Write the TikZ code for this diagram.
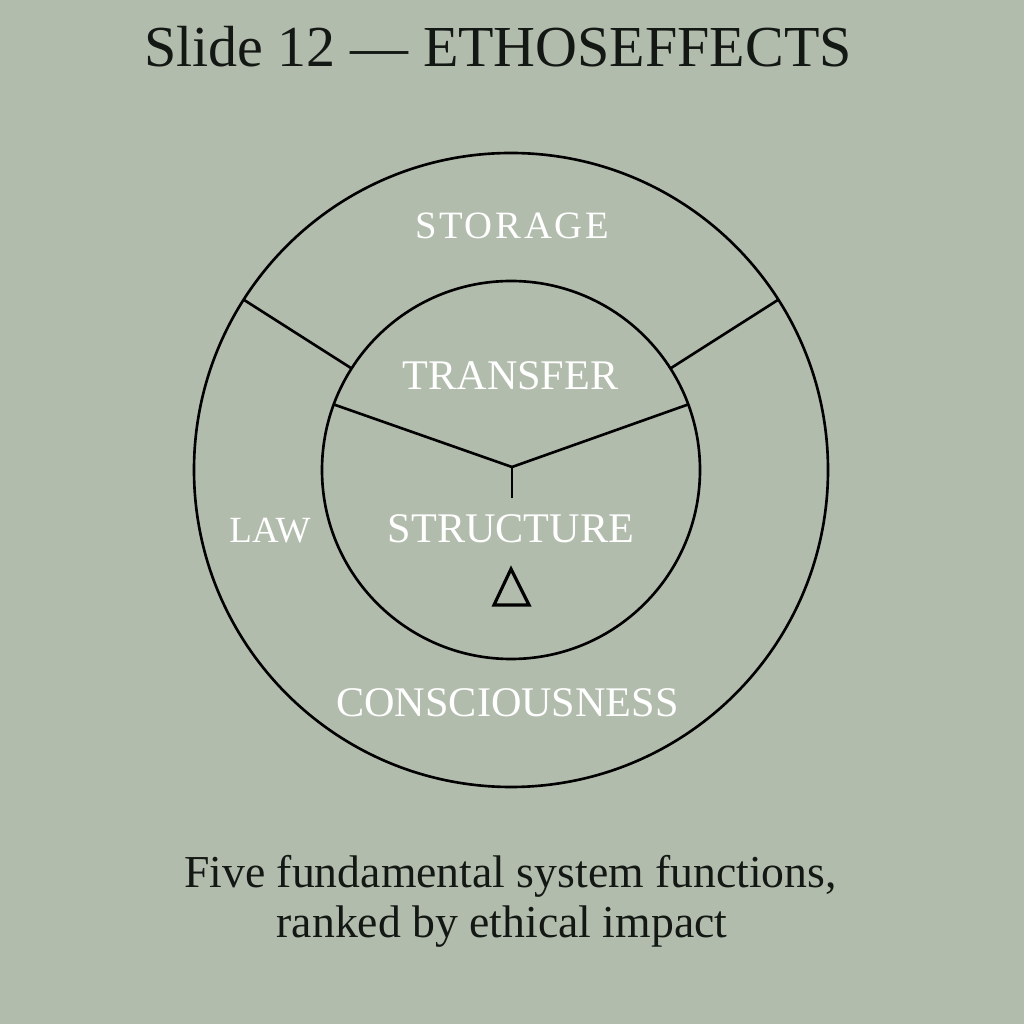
\documentclass[tikz,border=0pt]{standalone}
\usepackage{fontspec}
\setmainfont{Liberation Serif}
\usetikzlibrary{calc}
\definecolor{sage}{RGB}{178,188,172}
\definecolor{ink}{RGB}{20,24,20}
\tikzset{
	ring/.style={line width=0.75pt,draw=black},
	lbl/.style={anchor=base,text=white,inner sep=0pt,font=\fontsize{12pt}{14pt}\selectfont},
	darktext/.style={anchor=base,text=ink,inner sep=0pt}
}

\begin{document}
\begin{tikzpicture}[x=0.01cm,y=0.01cm,line join=miter]
		% background and page size
		\fill[sage] (0,0) rectangle (1024,1024);
		\useasboundingbox (0,0) rectangle (1024,1024);

		% title
		\node[darktext,font=\fontsize{16.5pt}{19pt}\selectfont] (title) at (498,957) {Slide 12 — ETHOSEFFECTS};

		% the two rings
		\coordinate (c) at (511,554);
		\draw[ring] (c) circle(317);
		\draw[ring] (c) circle(189);

		% spokes of the outer ring
		\draw[ring] ($(c)+(147.5:189)$) -- ($(c)+(147.5:317)$);
		\draw[ring] ($(c)+(32.5:189)$) -- ($(c)+(32.5:317)$);

		% the y inside the inner ring
		\coordinate (fork) at (512,557);
		\coordinate (stem) at (512,526);
		\draw[ring] ($(c)+(159.7:189)$) -- (fork) -- ($(c)+(20.3:189)$);
		\draw[ring] (fork) -- (stem);

		% small triangle
		\draw[line width=0.9pt] (511,455) -- (529,419) -- (494,419) -- cycle;

		% labels of the five functions
		\node[lbl,font=\fontsize{11pt}{13pt}\selectfont\addfontfeatures{LetterSpace=7}] (storage) at (512,785) {STORAGE};
		\node[lbl] (transfer) at (510.5,634) {TRANSFER};
		\node[lbl] (structure) at (511,481) {STRUCTURE};
		\node[lbl,font=\fontsize{10.5pt}{12pt}\selectfont] (law) at (270,481) {LAW};
		\node[lbl] (consciousness) at (507.5,307) {CONSCIOUSNESS};

		% caption below the rings
		\node[darktext,font=\fontsize{13pt}{15pt}\selectfont] (caption) at (510.5,136) {Five fundamental system functions,};
		\node[darktext,font=\fontsize{13pt}{15pt}\selectfont] (caption2) at (502,87) {ranked by ethical impact};
	\end{tikzpicture}
\end{document}
